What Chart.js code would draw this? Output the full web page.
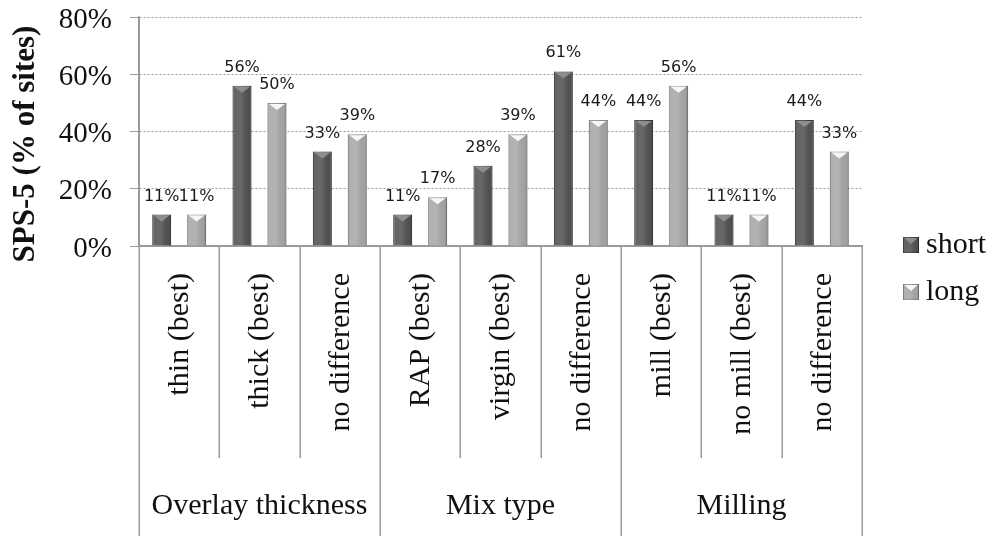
<!DOCTYPE html>
<html>
<head>
<meta charset="utf-8">
<script src="https://cdn.jsdelivr.net/npm/chart.js@4"></script>
<style>
  html, body { margin: 0; padding: 0; background: #ffffff; }
  #wrap { width: 991px; height: 536px; }
</style>
</head>
<body>
<div id="wrap"><canvas id="c" width="991" height="536"></canvas></div>
<script>
// Categories along the bottom, grouped into three factors
const categories = ['thin (best)', 'thick (best)', 'no difference',
                    'RAP (best)', 'virgin (best)', 'no difference',
                    'mill (best)', 'no mill (best)', 'no difference'];
const groupNames = ['Overlay thickness', 'Mix type', 'Milling'];
const groupSizes = [3, 3, 3];

// Share of sites (%) per category
const shortValues = [11, 56, 33, 11, 28, 61, 44, 11, 44];
const longValues  = [11, 50, 39, 17, 39, 44, 56, 11, 33];

const seriesNames = ['short', 'long'];
const yTickStep = 20;
const yMax = 80;
const yTitle = 'SPS-5 (% of sites)';

const SERIF = '"Liberation Serif", "Times New Roman", serif';
const SANS = '"DejaVu Sans", Verdana, sans-serif';
const LINE = '#9a9a9a';

const fills = ['#535353', '#a8a8a8'];
const edges = ['#3c3c3c', '#8c8c8c'];
const caps  = ['#8e8e8e', '#f7f7f7'];

// Bevelled look for a bar: side shading plus a small triangular cap
function shadeBar(ctx, left, top, w, h, capColor) {
  const g = ctx.createLinearGradient(left, 0, left + w, 0);
  g.addColorStop(0, 'rgba(0,0,0,0.28)');
  g.addColorStop(0.1, 'rgba(255,255,255,0.10)');
  g.addColorStop(0.45, 'rgba(255,255,255,0.12)');
  g.addColorStop(0.88, 'rgba(0,0,0,0.04)');
  g.addColorStop(1, 'rgba(0,0,0,0.30)');
  ctx.fillStyle = g;
  ctx.fillRect(left, top, w, h);
  const capH = Math.min(7, h);
  ctx.beginPath();
  ctx.moveTo(left + 1.5, top + 1);
  ctx.lineTo(left + w - 1.5, top + 1);
  ctx.lineTo(left + w / 2, top + capH);
  ctx.closePath();
  ctx.fillStyle = capColor;
  ctx.fill();
}

const decor = {
  id: 'decor',
  afterDatasetsDraw(chart) {
    const ctx = chart.ctx;
    chart.data.datasets.forEach((ds, di) => {
      const meta = chart.getDatasetMeta(di);
      meta.data.forEach((bar, i) => {
        const w = bar.width;
        const left = bar.x - w / 2;
        ctx.save();
        shadeBar(ctx, left, bar.y, w, bar.base - bar.y, caps[di]);
        ctx.restore();
        // value label above the bar
        ctx.save();
        ctx.font = '16px ' + SANS;
        ctx.fillStyle = '#1a1a1a';
        ctx.textAlign = 'center';
        ctx.textBaseline = 'alphabetic';
        ctx.fillText(ds.data[i] + '%', bar.x, bar.y - 14);
        ctx.restore();
      });
    });
  },
  afterDraw(chart) {
    const ctx = chart.ctx;
    const x = chart.scales.x;
    const area = chart.chartArea;
    const n = categories.length;
    const bottom = chart.height;
    const catBottom = 458;

    ctx.save();
    ctx.strokeStyle = LINE;
    ctx.lineWidth = 1.5;
    // category separators and group borders
    const groupEdges = new Set([0]);
    let acc = 0;
    groupSizes.forEach(s => { acc += s; groupEdges.add(acc); });
    for (let k = 0; k <= n; k++) {
      const px = Math.round(x.getPixelForValue(k - 0.5)) + 0.25;
      const isGroup = groupEdges.has(k);
      ctx.beginPath();
      ctx.moveTo(px, isGroup && k === 0 ? area.top : area.bottom);
      ctx.lineTo(px, isGroup ? bottom : catBottom);
      ctx.stroke();
    }
    ctx.restore();

    // rotated category labels
    ctx.save();
    ctx.font = '30px ' + SERIF;
    ctx.fillStyle = '#111';
    categories.forEach((lab, i) => {
      const px = x.getPixelForValue(i);
      ctx.save();
      ctx.translate(px + 1, area.bottom + 27);
      ctx.rotate(-Math.PI / 2);
      ctx.textAlign = 'right';
      ctx.textBaseline = 'middle';
      ctx.fillText(lab, 0, 0);
      ctx.restore();
    });
    ctx.restore();

    // group labels
    ctx.save();
    ctx.font = '30px ' + SERIF;
    ctx.fillStyle = '#111';
    ctx.textAlign = 'center';
    ctx.textBaseline = 'middle';
    let start = 0;
    groupNames.forEach((g, gi) => {
      const end = start + groupSizes[gi];
      const cx = (x.getPixelForValue(start - 0.5) + x.getPixelForValue(end - 0.5)) / 2;
      ctx.fillText(g, cx, 506);
      start = end;
    });
    ctx.restore();

    // legend
    ctx.save();
    const legY = [245, 292];
    seriesNames.forEach((name, si) => {
      const mx = 903, my = legY[si] - 8, ms = 16;
      ctx.fillStyle = fills[si];
      ctx.fillRect(mx, my, ms, ms);
      ctx.strokeStyle = edges[si];
      ctx.lineWidth = 1;
      ctx.strokeRect(mx + 0.5, my + 0.5, ms - 1, ms - 1);
      shadeBar(ctx, mx, my, ms, ms, caps[si]);
      ctx.font = '30px ' + SERIF;
      ctx.fillStyle = '#111';
      ctx.textAlign = 'left';
      ctx.textBaseline = 'middle';
      ctx.fillText(name, 926, legY[si]);
    });
    ctx.restore();

    // vertical axis title
    ctx.save();
    ctx.font = 'bold 31px ' + SERIF;
    ctx.fillStyle = '#111';
    ctx.translate(26, 144);
    ctx.rotate(-Math.PI / 2);
    ctx.textAlign = 'center';
    ctx.textBaseline = 'middle';
    ctx.fillText(yTitle, 0, 0);
    ctx.restore();
  }
};

new Chart(document.getElementById('c').getContext('2d'), {
  type: 'bar',
  data: {
    labels: categories,
    datasets: [
      { label: seriesNames[0], data: shortValues, backgroundColor: fills[0], borderColor: edges[0],
        borderWidth: 1, categoryPercentage: 0.87, barPercentage: 0.54 },
      { label: seriesNames[1], data: longValues, backgroundColor: fills[1], borderColor: edges[1],
        borderWidth: 1, categoryPercentage: 0.87, barPercentage: 0.54 }
    ]
  },
  options: {
    responsive: false,
    animation: false,
    devicePixelRatio: 1,
    layout: { autoPadding: false, padding: { top: 17, right: 129, bottom: 0, left: 0 } },
    plugins: { legend: { display: false }, tooltip: { enabled: false } },
    scales: {
      x: {
        ticks: { display: false },
        grid: { display: false },
        border: { display: true, color: LINE, width: 1.5 },
        afterFit(s) { s.height = 290; }
      },
      y: {
        min: 0, max: yMax,
        ticks: {
          stepSize: yTickStep,
          callback: v => v + '%',
          font: { family: SERIF, size: 29, lineHeight: 1.17 },
          color: '#111',
          padding: 18,
          labelOffset: 3
        },
        grid: { color: '#9a9a9a', lineWidth: 1, tickLength: 9, tickColor: LINE },
        border: { display: true, color: LINE, width: 1.5,
                  dash: c => (c.tick && c.tick.value === 0) ? [] : [2, 2] },
        afterFit(s) { s.width = 139; s.paddingTop = 0; s.paddingBottom = 0; }
      }
    }
  },
  plugins: [decor]
});
</script>
</body>
</html>
